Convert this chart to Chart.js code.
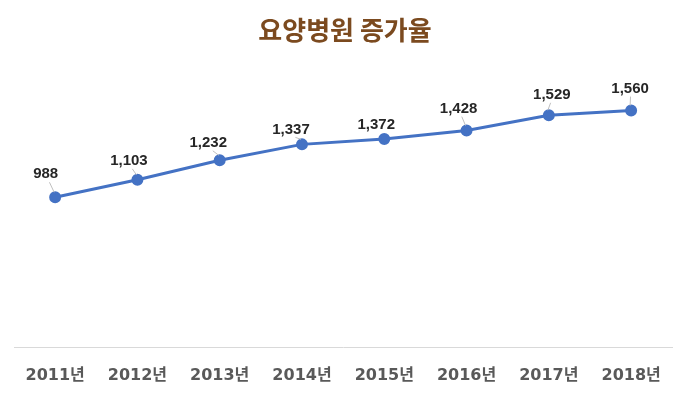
<!DOCTYPE html>
<html>
<head>
    <meta charset="UTF-8">
    <title>요양병원 증가율</title>
    <script src="https://cdn.jsdelivr.net/npm/chart.js"></script>
    <style>
        body { margin: 0; background: #fff; }
        .wrap { position: relative; width: 680px; height: 393px; }
    </style>
</head>
<body>
    <div class="wrap"><canvas id="myChart"></canvas></div>
    <script>
        const years = ['2011년', '2012년', '2013년', '2014년', '2015년', '2016년', '2017년', '2018년'];
        const hospitals = [988, 1103, 1232, 1337, 1372, 1428, 1529, 1560];

        // where each value label sits relative to its point (px), and whether a leader line is drawn
        const labelDx = [-9.5, -8.5, -11.5, -11, -8, -8, 3, -1];
        const labelDy = [-23, -19, -17.5, -15, -14, -22, -20.5, -22];
        const hasLeader = [true, true, true, true, false, true, true, true];

        const pointLabels = {
            id: 'pointLabels',
            afterDatasetsDraw(chart) {
                const ctx = chart.ctx;
                const meta = chart.getDatasetMeta(0);
                ctx.save();
                ctx.font = 'bold 15px "Liberation Sans", "Noto Sans CJK KR", sans-serif';
                ctx.fillStyle = '#262626';
                ctx.textAlign = 'center';
                ctx.textBaseline = 'middle';
                meta.data.forEach((pt, i) => {
                    const lx = pt.x + labelDx[i];
                    const ly = pt.y + labelDy[i];
                    if (hasLeader[i]) {
                        ctx.strokeStyle = '#bfbfbf';
                        ctx.lineWidth = 1;
                        ctx.beginPath();
                        ctx.moveTo(lx + (pt.x - lx) * 0.4, ly + 8);
                        ctx.lineTo(pt.x - 1, pt.y - 5);
                        ctx.stroke();
                    }
                    ctx.fillText(hospitals[i].toLocaleString('en-US'), lx, ly);
                });
                ctx.restore();
            }
        };

        const ctx = document.getElementById('myChart').getContext('2d');
        new Chart(ctx, {
            type: 'line',
            data: {
                labels: years,
                datasets: [{
                    data: hospitals,
                    borderColor: '#4472c4',
                    backgroundColor: '#4472c4',
                    borderWidth: 3,
                    pointRadius: 4.5,
                    pointBackgroundColor: '#4472c4',
                    pointBorderColor: '#4472c4',
                    tension: 0
                }]
            },
            options: {
                responsive: true,
                maintainAspectRatio: false,
                animation: false,
                layout: { autoPadding: false, padding: { left: 14, right: 4, top: 15, bottom: 0 } },
                scales: {
                    x: {
                        offset: true,
                        grid: { display: false, drawTicks: false },
                        border: { display: true, color: '#d9d9d9', width: 1 },
                        ticks: {
                            color: '#595959',
                            padding: 19,
                            font: { family: '"DejaVu Sans", "Noto Sans CJK KR", sans-serif', size: 16, weight: 'bold' }
                        },
                        afterFit(scale) {
                            scale.height = 46;
                        }
                    },
                    y: {
                        display: false,
                        min: 0,
                        max: 1800
                    }
                },
                plugins: {
                    legend: { display: false },
                    tooltip: { enabled: false },
                    title: {
                        display: true,
                        text: '요양병원 증가율',
                        color: '#7b4a1f',
                        font: { family: '"Noto Sans CJK KR", sans-serif', size: 26, weight: 'bold' },
                        padding: { top: 0, bottom: 28 }
                    }
                }
            },
            plugins: [pointLabels]
        });
    </script>
</body>
</html>
